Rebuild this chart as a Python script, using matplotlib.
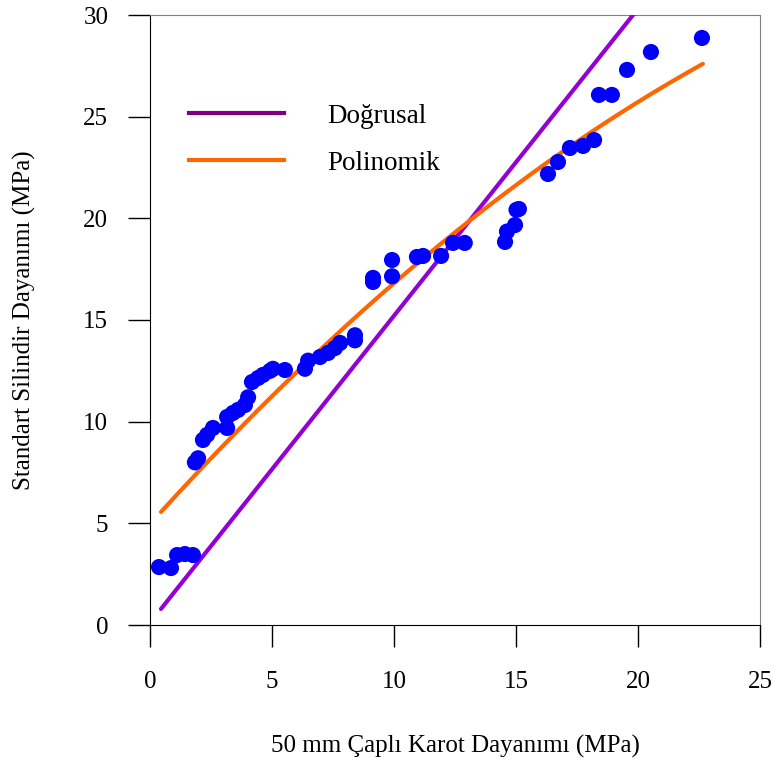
import numpy as np
import matplotlib
matplotlib.use("Agg")
import matplotlib.pyplot as plt
from matplotlib.lines import Line2D

plt.rcParams['font.family'] = ['Liberation Serif', 'DejaVu Serif']

# measured points: 50 mm core strength vs standard cylinder strength (MPa)
karot = [0.37, 0.86, 1.11, 1.43, 1.76, 1.84, 1.97, 2.17, 2.34, 2.58,
         3.16, 3.16, 3.40, 3.61, 3.89, 4.02, 4.18, 4.43, 4.63, 4.92,
         5.04, 5.53, 6.35, 6.48, 6.97, 7.30, 7.58, 7.79, 8.40, 8.40,
         9.14, 9.14, 9.92, 9.92, 10.94, 11.19, 11.93, 12.42, 12.90,
         14.55, 14.63, 14.96, 15.02, 15.12, 16.31, 16.72, 17.21, 17.75,
         18.20, 18.40, 18.93, 19.55, 20.53, 22.62]
silindir = [2.85, 2.80, 3.44, 3.49, 3.44, 8.00, 8.20, 9.10, 9.35, 9.69,
            9.69, 10.23, 10.43, 10.58, 10.82, 11.20, 11.95, 12.15, 12.30, 12.50,
            12.60, 12.54, 12.60, 13.00, 13.18, 13.38, 13.62, 13.87, 14.00, 14.25,
            16.87, 17.07, 17.15, 17.95, 18.10, 18.15, 18.15, 18.79, 18.79,
            18.84, 19.35, 19.67, 20.42, 20.46, 22.18, 22.77, 23.46, 23.56,
            23.85, 26.07, 26.07, 27.30, 28.18, 28.87]

# fitted curves
x_range = [0.45, 22.66]
dogrusal = [1.51, 0.11]            # slope, intercept
polinomik = [-0.01467, 1.3313, 4.964]  # quadratic coefficients

xx = np.linspace(x_range[0], x_range[1], 200)

fig = plt.figure(figsize=(7.74, 7.65), dpi=100)
ax = fig.add_axes([150/774, 140/765, 610/774, 610/765])

ax.plot(xx, np.polyval(dogrusal, xx), color='#9400D3', lw=3, solid_capstyle='round', zorder=3)
ax.plot(xx, np.polyval(polinomik, xx), color='#FF6600', lw=3, solid_capstyle='round', zorder=3)
ax.scatter(karot, silindir, s=135, color='#0000FF', edgecolors='none', zorder=4)

ax.set_xlim(0, 25)
ax.set_ylim(0, 30)
ax.set_xticks([0, 5, 10, 15, 20, 25])
ax.set_yticks([0, 5, 10, 15, 20, 25, 30])

ax.spines['top'].set_color('#808080')
ax.spines['right'].set_color('#808080')
ax.tick_params(axis='both', direction='out', length=16, width=1, labelsize=18)
ax.tick_params(axis='x', pad=17)
ax.tick_params(axis='y', pad=14)

ax.set_xlabel('50 mm Çaplı Karot Dayanımı (MPa)', fontsize=18, labelpad=30)
ax.set_ylabel('Standart Silindir Dayanımı (MPa)', fontsize=18, labelpad=34)

handles = [Line2D([], [], color='#800080', lw=3),
           Line2D([], [], color='#FF6600', lw=3)]
ax.legend(handles, ['Doğrusal', 'Polinomik'], loc='upper left',
          bbox_to_anchor=(0.042, 0.877), frameon=False, fontsize=19.5,
          handlelength=3.5, handletextpad=1.6, labelspacing=0.82, borderpad=0)

fig.savefig('out.png', dpi=100)
